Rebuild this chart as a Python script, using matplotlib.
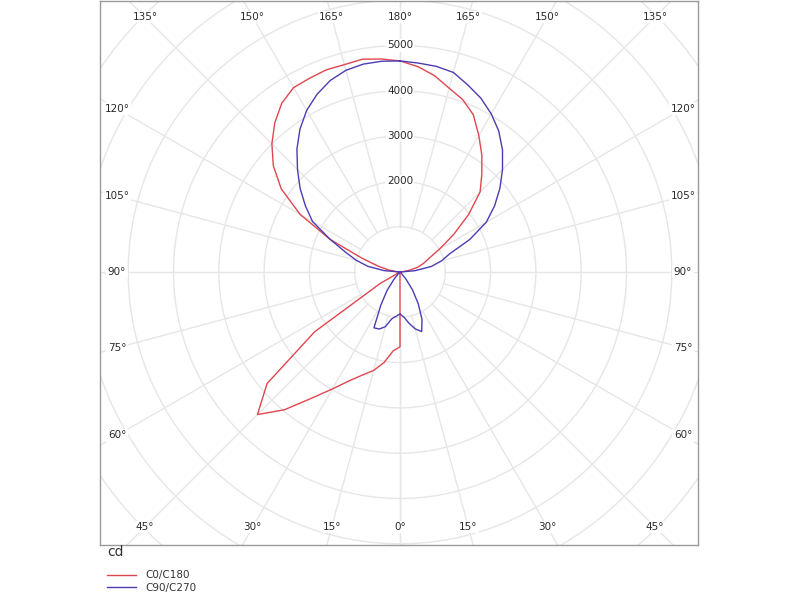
import numpy as np
import matplotlib.pyplot as plt

# gamma angle (0 = down, 180 = up), 5 deg steps
gamma = np.arange(0, 181, 5)

# luminous intensity in cd
c0 = [1650, 0, 0, 0, 0, 0, 0, 0, 0, 0, 0, 0, 0, 0, 0, 0, 0, 0, 0,
      60, 200, 400, 550, 700, 1000, 1450, 1980, 2500, 2810, 3150, 3480,
      3830, 4050, 4200, 4400, 4550, 4660]
c180 = [1650, 1750, 2030, 2250, 2420, 2650, 2980, 3400, 3970, 4450, 3830,
        2300, 500, 0, 0, 0, 0, 0, 0,
        80, 250, 500, 900, 1700, 2550, 3200, 3650, 4000, 4300, 4550, 4700,
        4720, 4750, 4740, 4770, 4720, 4660]
c90 = [925, 1000, 1150, 1300, 1400, 1150, 800, 480, 200, 30, 0, 0, 0, 0,
       0, 0, 0, 0, 0,
       330, 700, 950, 1160, 1700, 2200, 2550, 2880, 3200, 3520, 3800, 4030,
       4230, 4390, 4560, 4610, 4630, 4660]
c270 = [925, 980, 1050, 1250, 1340, 1360, 850, 500, 200, 30, 0, 0, 0, 0,
        0, 0, 0, 0, 0,
        350, 720, 1000, 1280, 1700, 2230, 2550, 2880, 3200, 3540, 3850, 4120,
        4330, 4500, 4610, 4660, 4670, 4660]

ring_values = [2000, 3000, 4000, 5000]
series_names = ['C0/C180', 'C90/C270']
red = '#e0464f'
blue = '#4a3db2'
grid_col = '#e6e6e6'


def curve(right, left):
    g = np.radians(gamma)
    r_right = np.array(right, float)
    r_left = np.array(left, float)
    xl = -r_left * np.sin(g)
    yl = -r_left * np.cos(g)
    xr = r_right * np.sin(g)
    yr = -r_right * np.cos(g)
    return np.concatenate([xl[::-1], xr]), np.concatenate([yl[::-1], yr])


fig = plt.figure(figsize=(8, 6), dpi=100)
ax = fig.add_axes([100 / 800, 1 - 545 / 600, 598 / 800, 544 / 600])
scale = 45.3 / 1000.0  # px per cd
ax.set_xlim(-300 / scale, 298 / scale)
ax.set_ylim(-273 / scale, 271 / scale)
ax.set_xticks([])
ax.set_yticks([])
for s in ax.spines.values():
    s.set_color('#9a9a9a')
    s.set_linewidth(1)

# grid rings
t = np.linspace(0, 2 * np.pi, 400)
for rv in range(1000, 10000, 1000):
    ax.plot(rv * np.cos(t), rv * np.sin(t), color=grid_col, lw=1, zorder=1)

# spokes and angle labels
half_w = 283 / scale
half_h = 255 / scale
for side in (-1, 1):
    for a in range(0, 181, 15):
        g = np.radians(a)
        dx, dy = side * np.sin(g), -np.cos(g)
        ax.plot([1000 * dx, 12000 * dx], [1000 * dy, 12000 * dy],
                color=grid_col, lw=1, zorder=1)
        if side == 1 and a in (0, 180):
            continue
        tx = half_w / abs(dx) if abs(dx) > 1e-9 else np.inf
        ty = half_h / abs(dy) if abs(dy) > 1e-9 else np.inf
        k = min(tx, ty)
        ax.text(k * dx, k * dy, '%d°' % a, ha='center', va='center',
                fontsize=7.5, color='#2a2a2a', zorder=2,
                bbox=dict(facecolor='white', edgecolor='none', pad=1))

for rv in ring_values:
    ax.text(0, rv, str(rv), ha='center', va='center', fontsize=7.5,
            color='#2a2a2a', zorder=2,
            bbox=dict(facecolor='white', edgecolor='none', pad=1))

x1, y1 = curve(c0, c180)
x2, y2 = curve(c90, c270)
l1, = ax.plot(x1, y1, color=red, lw=1, zorder=3)
l2, = ax.plot(x2, y2, color=blue, lw=1, zorder=3)

fig.text(107 / 800, 1 - 552 / 600, 'cd', fontsize=10, color='#333333',
         ha='left', va='center')
fig.legend([l1, l2], series_names, loc='upper left',
           bbox_to_anchor=(100 / 800, 1 - 563 / 600), frameon=False,
           fontsize=7.5, handlelength=2.8, handletextpad=0.9,
           labelspacing=0.25, borderpad=0.2, labelcolor='#333333')

fig.savefig('out.png', dpi=100)
